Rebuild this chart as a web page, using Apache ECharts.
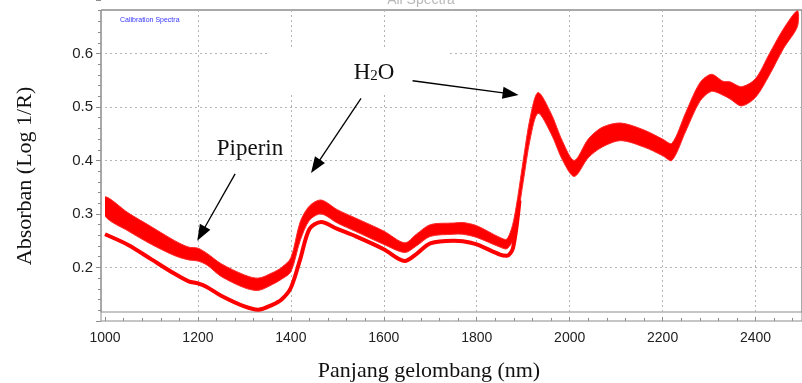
<!DOCTYPE html>
<html>
<head>
<meta charset="utf-8">
<script src="https://cdn.jsdelivr.net/npm/echarts@6/dist/echarts.min.js"></script>
<style>html,body{margin:0;padding:0;background:#fff}#c{width:802px;height:383px}</style>
</head>
<body>
<div id="c"></div>
<script>
// ---- data ----
const wavelengths = [1000,1050,1100,1150,1180,1200,1220,1250,1300,1330,1360,1380,1400,1420,1440,1465,1500,1540,1600,1645,1670,1700,1750,1770,1800,1850,1865,1880,1900,1915,1932,1960,1985,2010,2040,2070,2110,2160,2200,2220,2250,2280,2305,2330,2345,2370,2400,2430,2460,2490];
const bandTop = [0.332,0.302,0.276,0.250,0.238,0.236,0.226,0.207,0.186,0.180,0.190,0.200,0.218,0.285,0.315,0.326,0.308,0.292,0.268,0.246,0.262,0.280,0.283,0.284,0.278,0.256,0.253,0.290,0.400,0.480,0.527,0.488,0.435,0.400,0.440,0.462,0.470,0.457,0.440,0.432,0.490,0.545,0.561,0.548,0.547,0.538,0.553,0.600,0.646,0.680];
const bandBottom = [0.296,0.268,0.243,0.222,0.214,0.212,0.204,0.183,0.162,0.157,0.168,0.178,0.192,0.250,0.288,0.300,0.283,0.267,0.243,0.228,0.240,0.258,0.262,0.262,0.256,0.238,0.235,0.255,0.360,0.440,0.488,0.450,0.400,0.370,0.405,0.425,0.437,0.425,0.409,0.400,0.455,0.510,0.529,0.522,0.515,0.502,0.518,0.560,0.609,0.650];
const lowerWavelengths = [1000,1050,1100,1150,1180,1200,1220,1250,1300,1330,1360,1380,1400,1420,1440,1465,1500,1540,1600,1645,1670,1700,1750,1770,1800,1850,1865,1878,1892];
const lowerCurve = [0.262,0.242,0.215,0.188,0.174,0.170,0.163,0.147,0.127,0.121,0.130,0.140,0.162,0.215,0.272,0.285,0.272,0.258,0.234,0.212,0.225,0.245,0.250,0.249,0.243,0.224,0.222,0.236,0.325];
const xRange = [1000, 2500];
const yRange = [0.1, 0.7];
// annotation arrows: [from, to] in data units (wavelength, absorbance)
const arrows = [
  [[1280, 0.375], [1207, 0.263]],
  [[1551, 0.516], [1453, 0.389]],
  [[1662, 0.549], [1873, 0.5245]]
];

const RED = '#ff0000';
const AX = '#8c8c8c';
const GRIDC = '#b4b4b4';
const SERIF = '"Liberation Serif","Times New Roman",serif';
const SANS = '"Liberation Sans",Arial,sans-serif';

function bandRenderer(xs, tops, bottoms) {
  return function (params, api) {
    if (params.dataIndex !== 0) return null;
    const pts = [];
    for (let i = 0; i < xs.length; i++) pts.push(api.coord([xs[i], tops[i]]));
    for (let i = xs.length - 1; i >= 0; i--) pts.push(api.coord([xs[i], bottoms[i]]));
    return {
      type: 'polygon',
      shape: { points: pts, smooth: 0.3 },
      style: { fill: RED, stroke: '#ff2a2a', lineWidth: 1 }
    };
  };
}

const chart = echarts.init(document.getElementById('c'));
const option = {
  animation: false,
  backgroundColor: '#fff',
  grid: [
    { left: 105, right: -8, top: -2.2, bottom: 62.1, show: false },
    { left: 105, right: -8, top: 10, bottom: 71, show: false },
    { left: 101, right: -8, top: 10, bottom: 62, show: true, borderColor: AX, borderWidth: 1, backgroundColor: 'transparent' },
    { left: 101, right: -8, top: 10, bottom: 71, show: true, borderColor: AX, borderWidth: 1, backgroundColor: 'transparent' }
  ],
  xAxis: [
    {
      gridIndex: 0, type: 'value', min: xRange[0], max: xRange[1], interval: 200,
      axisLine: { show: false },
      axisTick: { show: true, inside: true, length: 4, lineStyle: { color: AX } },
      minorTick: { show: true, splitNumber: 5, length: 3, lineStyle: { color: AX } },
      axisLabel: { margin: 10, fontSize: 14, color: '#222', fontFamily: SANS, showMaxLabel: false, formatter: v => String(v) },
      splitLine: { show: false }
    },
    {
      gridIndex: 1, type: 'value', min: xRange[0], max: xRange[1], interval: 200,
      axisLine: { show: false }, axisTick: { show: false }, axisLabel: { show: false },
      splitLine: { show: true, showMinLine: false, showMaxLine: false, lineStyle: { color: GRIDC, type: [2, 3], width: 1 } }
    },
    { gridIndex: 2, type: 'value', show: false },
    { gridIndex: 3, type: 'value', show: false }
  ],
  yAxis: [
    {
      gridIndex: 0, type: 'value', min: yRange[0], max: yRange[1], interval: 0.1, offset: 4,
      axisLine: { show: false },
      axisTick: { show: true, length: 5, lineStyle: { color: AX } },
      minorTick: { show: true, splitNumber: 5, length: 3, lineStyle: { color: AX } },
      axisLabel: { margin: 8, fontSize: 15, color: '#222', fontFamily: SANS, showMinLabel: false, showMaxLabel: false, formatter: v => v.toFixed(1) },
      splitLine: { show: true, showMinLine: false, showMaxLine: false, lineStyle: { color: GRIDC, type: [2, 3], width: 1 } }
    },
    { gridIndex: 1, type: 'value', show: false, min: yRange[0], max: yRange[1] },
    { gridIndex: 2, type: 'value', show: false },
    { gridIndex: 3, type: 'value', show: false }
  ],
  graphic: [
    { type: 'rect', z: 1, shape: { x: 268, y: 48, width: 180, height: 45 }, style: { fill: '#fff' } },
    { type: 'text', z: 10, x: 421, y: 7, style: { text: 'All Spectra', fontSize: 14, fontFamily: SANS, fill: '#b8b8b8', align: 'center', verticalAlign: 'bottom' } },
    { type: 'text', z: 10, x: 120, y: 20, style: { text: 'Calibration Spectra', fontSize: 7, fontFamily: SANS, fill: '#3535ff', align: 'left', verticalAlign: 'middle' } },
    { type: 'text', z: 10, x: 250, y: 149, style: { text: 'Piperin', fontSize: 23, fontFamily: SERIF, fill: '#111', align: 'center', verticalAlign: 'middle' } },
    { type: 'text', z: 10, x: 374, y: 72, style: {
        text: '{a|H}{b|2}{a|O}', align: 'center', verticalAlign: 'middle', fill: '#111',
        rich: {
          a: { fontSize: 23, fontFamily: SERIF, lineHeight: 24, verticalAlign: 'bottom', fill: '#111' },
          b: { fontSize: 15, fontFamily: SERIF, lineHeight: 13, verticalAlign: 'bottom', fill: '#111' }
        } } },
    { type: 'text', z: 10, x: 25, y: 176, rotation: Math.PI / 2, style: { text: 'Absorban (Log 1/R)', fontSize: 22, fontFamily: SERIF, fill: '#111', align: 'center', verticalAlign: 'middle' } },
    { type: 'text', z: 10, x: 429, y: 371, style: { text: 'Panjang gelombang (nm)', fontSize: 22, fontFamily: SERIF, fill: '#111', align: 'center', verticalAlign: 'middle' } }
  ],
  series: [
    {
      type: 'custom', name: 'band', xAxisIndex: 0, yAxisIndex: 0, z: 3, clip: true,
      renderItem: bandRenderer(wavelengths, bandTop, bandBottom),
      encode: { x: 0, y: [1, 2] },
      data: wavelengths.map((w, i) => [w, bandTop[i], bandBottom[i]])
    },
    {
      type: 'line', name: 'lower', xAxisIndex: 0, yAxisIndex: 0, z: 3,
      smooth: 0.3, symbol: 'none',
      lineStyle: { color: RED, width: 4 },
      data: lowerWavelengths.map((w, i) => [w, lowerCurve[i]]),
      markLine: {
        silent: true, z: 6,
        symbol: ['none', 'triangle'], symbolSize: [12, 16],
        lineStyle: { color: '#000', width: 1.3, type: 'solid' },
        itemStyle: { color: '#000' },
        label: { show: false },
        emphasis: { disabled: true },
        data: arrows.map(a => [{ coord: a[0] }, { coord: a[1] }])
      }
    }
  ]
};
chart.setOption(option);
</script>
</body>
</html>
